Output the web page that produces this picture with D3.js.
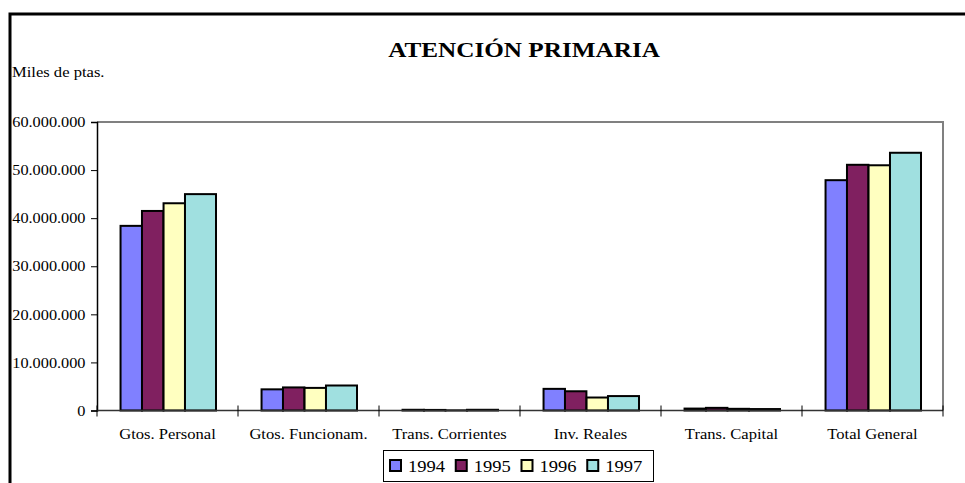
<!DOCTYPE html>
<html>
<head>
<meta charset="utf-8">
<script src="https://cdn.jsdelivr.net/npm/d3@7"></script>
<style>
  body { margin: 0; background: #fff; }
  svg text { font-family: "Liberation Serif", "DejaVu Serif", serif; fill: #000; }
</style>
</head>
<body>
<svg id="chart"></svg>
<script>
// data (miles de ptas.)
var categories = ["Gtos. Personal", "Gtos. Funcionam.", "Trans. Corrientes", "Inv. Reales", "Trans. Capital", "Total General"];
var years = ["1994", "1995", "1996", "1997"];
var v1994 = [38400000, 4400000, 150000, 4500000, 400000, 47900000];
var v1995 = [41500000, 4800000, 120000, 4000000, 550000, 51100000];
var v1996 = [43100000, 4700000, 30000, 2700000, 350000, 51000000];
var v1997 = [45000000, 5200000, 150000, 3000000, 300000, 53600000];
var yTicks = [0, 10000000, 20000000, 30000000, 40000000, 50000000, 60000000];
var colors = ["#8080ff", "#802060", "#ffffc0", "#a0e0e0"];

var series = [v1994, v1995, v1996, v1997];

var width = 965, height = 483;

var svg = d3.select("#chart")
    .attr("width", width)
    .attr("height", height);

// outer frame (only top and left edges are visible)
svg.append("path")
    .attr("d", "M10,483 L10,14 L965,14")
    .attr("fill", "none")
    .attr("stroke", "#000")
    .attr("stroke-width", 3);

// text in the picture is stretched horizontally, so each label gets its own x scale
function label(x, y, txt, size, sx, anchor, weight) {
  return svg.append("text")
      .attr("transform", "translate(" + x + "," + y + ") scale(" + sx + ",1)")
      .attr("text-anchor", anchor || "start")
      .attr("font-family", "Liberation Serif")
      .attr("font-size", size)
      .attr("font-weight", weight || "normal")
      .text(txt);
}

label(524, 57, "ATENCIÓN PRIMARIA", 21, 1.2, "middle", "bold");
label(12, 77, "Miles de ptas.", 14.8, 1.12);

// scales
var x = d3.scaleBand().domain(categories).range([97, 943]).padding(0);
var y = d3.scaleLinear().domain([0, 60000000]).range([410.5, 122]);
var bw = x.bandwidth();
// bar start offsets and widths inside a category, as fraction of the band
var sub = d3.scaleOrdinal().domain(years).range([0.167, 0.319, 0.472, 0.624]);
var subW = d3.scaleOrdinal().domain(years).range([0.152, 0.152, 0.152, 0.22]);

// plot border (gray top and right)
svg.append("path")
    .attr("d", "M" + x.range()[0] + "," + y(60000000) + " L" + x.range()[1] + "," + y(60000000) + " L" + x.range()[1] + "," + y(0))
    .attr("fill", "none")
    .attr("stroke", "#808080")
    .attr("stroke-width", 2);

// bars
years.forEach(function(yr, i) {
  svg.append("g")
    .selectAll("rect")
    .data(series[i])
    .enter().append("rect")
      .attr("x", function(d, j) { return x(categories[j]) + sub(yr) * bw; })
      .attr("width", subW(yr) * bw)
      .attr("y", function(d) { return y(d); })
      .attr("height", function(d) { return y(0) - y(d); })
      .attr("fill", colors[i])
      .attr("stroke", "#000")
      .attr("stroke-width", 2);
});

// y axis
var fmt = d3.formatLocale({ decimal: ",", thousands: ".", grouping: [3], currency: ["", ""] }).format(",d");
var yAxis = svg.append("g")
    .attr("transform", "translate(" + x.range()[0] + ",0)")
    .call(d3.axisLeft(y).tickValues(yTicks).tickFormat(fmt).tickSize(6).tickPadding(6));
yAxis.attr("font-family", "Liberation Serif");
yAxis.select(".domain").attr("stroke", "#000").attr("stroke-width", 1.5);
yAxis.selectAll(".tick line").attr("stroke", "#000");
yAxis.selectAll(".tick text")
    .attr("font-size", 14.8)
    .attr("transform", "scale(1.1,1)")
    .attr("x", -11.5 / 1.1);

// x axis line and category ticks
svg.append("line")
    .attr("x1", x.range()[0]).attr("x2", x.range()[1])
    .attr("y1", y(0)).attr("y2", y(0))
    .attr("stroke", "#333").attr("stroke-width", 1.5);
var bounds = categories.map(function(c) { return x(c); }).concat([x.range()[1]]);
svg.append("g").selectAll("line")
    .data(bounds)
    .enter().append("line")
      .attr("x1", function(d) { return d; }).attr("x2", function(d) { return d; })
      .attr("y1", y(0) - 5).attr("y2", y(0) + 6)
      .attr("stroke", "#000");
categories.forEach(function(c) {
  label(x(c) + bw / 2, 439, c, 14.8, 1.12, "middle");
});

// legend
var lg = svg.append("g");
lg.append("rect")
    .attr("x", 383.5).attr("y", 450.5)
    .attr("width", 270).attr("height", 31)
    .attr("fill", "#fff").attr("stroke", "#000").attr("stroke-width", 1);
var lx = d3.scaleBand().domain(years).range([390, 653]);
years.forEach(function(yr, i) {
  lg.append("rect")
      .attr("x", lx(yr)).attr("y", 460)
      .attr("width", 11).attr("height", 11)
      .attr("fill", colors[i]).attr("stroke", "#000").attr("stroke-width", 2);
  label(lx(yr) + 18, 472, yr, 17.5, 1.06);
});
</script>
</body>
</html>
